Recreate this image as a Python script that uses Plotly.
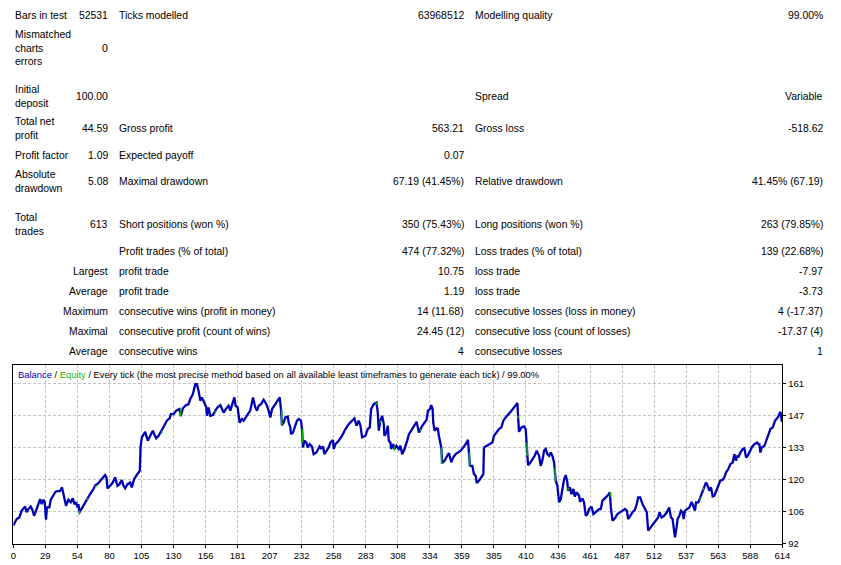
import plotly.graph_objects as go

W, H = 841, 565

# ---------------- data ----------------
trade_no = [
    0, 2.7, 4.8, 6.7, 9.4, 10.7, 12.0, 13.9, 15.5, 16.6, 18.2, 20.0, 21.4, 22.7, 24.0, 25.1, 26.1, 26.9, 28.8, 29.9,
    32.0, 33.6, 35.2, 37.3, 38.9, 40.0, 40.8, 42.1, 44.0, 45.9, 47.5, 48.8, 50.1, 51.2, 52.0, 52.8, 54.7, 57.3, 59.2,
    61.3, 64.0, 65.6, 67.2, 69.3, 71.4, 73.3, 74.4, 75.2, 77.3, 79.4, 81.3, 82.1, 83.2, 84.8, 86.6, 88.0, 89.3, 91.2,
    93.3, 94.6, 95.4, 96.5, 98.1, 100.0, 101.0, 101.6, 102.6, 105.3,
    107.4, 109.3, 111.4, 112.5, 114.1, 116.0, 118.6, 120.5, 122.6, 124.8, 125.8, 128.0, 130.1, 132.7, 133.8, 135.4,
    137.3, 139.9, 141.3, 143.4, 145.3, 146.6, 147.9, 149.3, 150.6, 152.5, 154.1, 154.6, 155.9, 157.3, 159.4, 161.3,
    163.1, 165.3, 166.6, 167.9, 170.1, 171.9, 173.3, 174.6, 176.5, 177.5, 179.1, 180.7, 182.6, 183.9, 186.6, 189.2,
    191.4, 193.2, 194.6, 195.9, 197.8, 199.9, 202.0, 203.9, 205.2, 206.6, 209.2,
    210.0, 212.7, 213.7, 214.5, 215.9, 217.2, 219.1, 219.9, 221.2, 221.7, 223.3, 225.2, 226.5, 227.9, 229.7, 230.5,
    231.3, 232.4, 234.0, 235.0, 236.6, 238.5, 239.8, 242.0, 243.0, 244.6, 245.7, 247.3, 248.4, 250.0, 251.8, 253.2,
    255.3, 255.8, 257.2, 259.8, 262.5, 265.2, 267.8, 270.5, 272.4, 274.0, 275.8, 277.2, 278.5, 281.2, 283.0, 284.6,
    285.7, 287.8, 290.0, 291.0, 291.8, 293.1, 294.5, 295.8, 296.3, 297.9, 299.0, 299.8, 301.1, 301.7, 303.3, 304.3,
    305.9, 307.8, 309.1, 310.5,
    312.4, 314.5, 315.9, 317.7, 319.9, 322.0, 323.9, 325.2, 326.5, 328.4, 330.0, 331.1, 332.7, 333.7, 334.8, 335.3,
    336.4, 338.0, 339.0, 339.8, 340.6, 341.7, 342.5, 344.4, 346.5, 347.8, 349.7, 351.3, 353.2, 355.0, 357.2, 359.3,
    361.2, 363.0, 363.8, 364.6, 366.5, 367.8, 369.2, 370.0, 371.8, 373.7, 375.3, 375.8, 378.0, 379.8, 382.5, 383.8,
    386.0, 387.8, 389.7, 391.3, 393.1, 395.0, 397.1, 399.8, 402.5, 403.0, 403.8, 405.7, 407.8, 409.1, 409.9, 411.0,
    412.6, 414.5, 416.3, 417.9,
    419.8, 421.1, 422.4, 423.8, 425.1, 426.4, 427.8, 429.1, 430.4, 431.8, 432.3, 433.1, 434.4, 435.8, 437.1, 438.4,
    439.8, 441.1, 442.4, 442.9, 444.5, 445.6, 447.2, 448.3, 449.9, 451.7, 452.5, 454.4, 455.7, 457.1, 458.4, 459.7,
    461.6, 463.2, 465.1, 467.7, 469.1, 470.4, 472.3, 474.4, 476.3, 477.1, 478.4, 480.3, 482.4, 484.5, 486.4, 488.3,
    489.9, 490.9, 492.5, 494.4, 496.3, 497.8, 498.9, 500.5, 502.4, 504.2, 505.8, 506.9, 509.0, 511.2, 513.0, 514.9,
    516.0, 517.6, 519.7, 521.8, 523.7,
    525.1, 526.4, 527.2, 528.3, 529.6, 530.4, 531.8, 533.1, 534.4, 535.2, 536.3, 537.9, 539.8, 541.6, 543.2, 544.3,
    545.1, 547.0, 548.5, 550.4, 551.7, 553.1, 554.4, 555.7, 557.1, 558.4, 559.7, 561.1, 562.9, 564.5, 566.4, 567.7,
    569.1, 570.9, 572.5, 574.4, 575.7, 577.1, 577.9, 578.9, 580.5, 582.4, 583.7, 585.1, 586.4, 587.7, 589.6, 591.7,
    593.9, 594.9, 595.7, 596.5, 597.6, 599.7, 601.0, 602.4, 604.5, 606.4, 608.2, 610.4, 611.7, 612.5, 613.6,
]
balance = [
    100.0, 102.8, 103.5, 106.4, 108.2, 105.7, 107.1, 108.2, 106.4, 104.2, 106.4, 109.2, 111.4, 109.2, 111.1, 110.0, 102.5, 107.8, 107.8, 111.1,
    112.8, 114.5, 114.8, 114.8, 116.4, 114.0, 111.1, 108.5, 111.1, 110.0, 111.7, 109.2, 110.0, 107.8, 109.2, 105.7, 107.4, 110.0, 111.7,
    113.5, 115.7, 117.4, 117.8, 119.3, 120.7, 121.7, 120.7, 116.0, 117.1, 118.5, 120.7, 118.5, 117.1, 117.8, 119.6, 117.1, 116.0, 117.8,
    118.5, 116.4, 118.5, 120.0, 121.4, 122.6, 123.6, 133.6, 137.9, 140.3,
    136.5, 138.6, 140.8, 139.3, 137.5, 138.6, 140.8, 142.9, 145.1, 146.1, 147.9, 147.9, 149.4, 150.1, 147.2, 150.4,
    151.5, 152.2, 154.4, 156.5, 160.8, 160.8, 158.0, 153.7, 155.1, 152.9, 150.8, 147.2, 150.8, 147.2, 147.5, 149.4,
    150.8, 151.8, 150.1, 148.6, 150.4, 151.5, 149.4, 151.5, 155.1, 151.5, 150.8, 144.3, 145.8, 145.1, 147.2, 149.4,
    155.1, 150.8, 149.4, 151.5, 152.2, 154.1, 152.2, 149.4, 146.5, 150.1, 152.2,
    152.9, 155.1, 150.1, 143.2, 144.3, 146.5, 146.9, 144.3, 142.2, 139.3, 140.0, 143.6, 145.1, 145.8, 145.1, 141.5,
    133.6, 136.5, 135.7, 133.6, 135.0, 134.0, 130.7, 131.4, 132.2, 134.0, 133.2, 134.0, 130.7, 132.2, 133.6, 135.7,
    136.7, 132.9, 135.0, 136.5, 138.6, 141.5, 143.6, 145.1, 146.1, 142.9, 145.1, 142.9, 137.9, 138.6, 141.5, 142.2,
    150.1, 152.2, 152.9, 148.6, 140.8, 145.1, 147.2, 143.6, 138.6, 140.0, 142.9, 136.5, 135.7, 132.9, 135.0, 132.9,
    134.3, 132.9, 134.3, 130.7,
    132.9, 136.5, 139.3, 140.8, 142.9, 144.6, 140.0, 141.5, 142.9, 144.3, 145.5, 149.4, 150.1, 151.8, 150.1, 144.3,
    140.8, 141.8, 141.5, 138.6, 135.7, 133.6, 126.9, 127.9, 130.0, 131.2, 127.2, 129.3, 130.7, 131.4, 132.2, 133.6,
    135.0, 136.9, 131.4, 125.7, 125.7, 122.1, 121.4, 118.3, 119.3, 120.7, 122.1, 133.6, 134.3, 135.0, 135.7, 138.6,
    140.0, 141.5, 142.2, 145.1, 146.5, 147.5, 148.9, 150.8, 152.7, 147.2, 140.3, 142.2, 142.6, 141.5, 135.7, 126.0,
    126.9, 128.6, 130.0, 132.2,
    130.0, 125.7, 127.9, 132.2, 132.9, 130.7, 130.0, 131.4, 130.0, 127.1, 125.0, 119.3, 117.1, 110.0, 111.4, 115.0,
    120.0, 121.7, 118.5, 115.0, 116.4, 113.5, 115.7, 112.5, 114.3, 112.8, 110.2, 111.7, 110.0, 104.2, 104.9, 107.1,
    108.2, 104.9, 105.7, 107.1, 107.1, 110.7, 111.7, 112.8, 114.3, 107.8, 102.1, 103.1, 104.9, 105.9, 106.4, 107.1,
    106.4, 102.8, 104.2, 105.7, 106.8, 109.2, 112.1, 112.1, 109.2, 107.1, 105.7, 97.8, 99.2, 100.6, 102.1, 103.5,
    105.7, 103.5, 104.2, 105.7, 107.8,
    103.5, 102.8, 99.2, 94.9, 99.2, 102.8, 104.2, 106.4, 105.7, 102.8, 106.4, 107.1, 107.8, 110.2, 107.8, 106.4,
    110.0, 110.0, 112.1, 115.0, 116.4, 118.5, 117.1, 115.0, 116.4, 112.5, 112.8, 115.0, 117.1, 119.3, 119.7, 120.7,
    122.9, 124.3, 126.4, 127.1, 130.7, 127.9, 130.0, 129.3, 131.4, 132.9, 133.2, 129.3, 130.0, 131.4, 133.6, 135.0,
    135.7, 135.0, 135.0, 131.4, 133.6, 134.3, 136.5, 138.6, 141.5, 142.2, 145.1, 146.5, 147.9, 148.9, 144.6,
]

# equity drawdowns visible below the balance line (trade, equity start, equity low)
eq_trade = [52.8, 59.2, 66.0, 118.6, 133.6, 161.3, 214.3, 230.9, 290.0, 293.1, 304.3, 325.2,
            341.9, 364.2, 403.0, 410.3, 432.7, 443.0, 476.8, 548.5, 551.0]
eq_start = [106.5, 111.7, 117.4, 140.8, 150.1, 149.4, 150.1, 141.5, 152.9, 145.1, 134.0, 141.5,
            133.6, 131.4, 147.2, 135.7, 125.0, 116.4, 114.3, 112.1, 116.4]
eq_low = [104.6, 110.8, 116.5, 139.8, 146.8, 148.3, 142.8, 135.5, 151.8, 144.0, 132.2, 140.5,
          126.5, 125.2, 146.0, 130.0, 118.8, 115.3, 112.3, 111.0, 115.2]

x_tick_labels = ["0", "29", "54", "80", "105", "130", "156", "181", "207", "232", "258", "283", "308",
                 "334", "359", "385", "410", "436", "461", "487", "512", "537", "563", "588", "614"]
y_tick_values = [92.2, 105.95, 119.7, 133.45, 147.2, 160.95]
y_tick_labels = ["92", "106", "120", "133", "147", "161"]

# report table: [label, value, label, value, label, value]
report_rows = [
    ["Bars in test", "52531", "Ticks modelled", "63968512", "Modelling quality", "99.00%"],
    ["Mismatched<br>charts<br>errors", "0", "", "", "", ""],
    ["Initial<br>deposit", "100.00", "", "", "Spread", "Variable"],
    ["Total net<br>profit", "44.59", "Gross profit", "563.21", "Gross loss", "-518.62"],
    ["Profit factor", "1.09", "Expected payoff", "0.07", "", ""],
    ["Absolute<br>drawdown", "5.08", "Maximal drawdown", "67.19 (41.45%)", "Relative drawdown", "41.45% (67.19)"],
    ["Total<br>trades", "613", "Short positions (won %)", "350 (75.43%)", "Long positions (won %)", "263 (79.85%)"],
    ["", "", "Profit trades (% of total)", "474 (77.32%)", "Loss trades (% of total)", "139 (22.68%)"],
    ["", "Largest", "profit trade", "10.75", "loss trade", "-7.97"],
    ["", "Average", "profit trade", "1.19", "loss trade", "-3.73"],
    ["", "Maximum", "consecutive wins (profit in money)", "14 (11.68)", "consecutive losses (loss in money)", "4 (-17.37)"],
    ["", "Maximal", "consecutive profit (count of wins)", "24.45 (12)", "consecutive loss (count of losses)", "-17.37 (4)"],
    ["", "Average", "consecutive wins", "4", "consecutive losses", "1"],
]
quality_text = "99.00%"

# ---------------- layout (pixels) ----------------
row_y = [15, 48, 96, 129, 156, 182, 224, 251, 271, 291, 311, 331, 351]
col_x = [13, 110, 117, 466, 473, 825]
col_anchor = ["left", "right", "left", "right", "left", "right"]

FONT = "Liberation Sans"
TXT = "#000000"
BLUE = "#0000B4"
GREEN = "#00B400"

PL, PR, PT, PB = 13.3, 782.3, 365.3, 543.7


def px(x):
    return x / W


def py(y):
    return 1 - y / H


fig = go.Figure()

fig.add_trace(go.Scatter(x=trade_no, y=balance, mode="lines",
                         line=dict(color=BLUE, width=2.3), hoverinfo="skip", showlegend=False))

ex, ey = [], []
for t, a, b in zip(eq_trade, eq_start, eq_low):
    ex += [t, t, None]
    ey += [a, b, None]
fig.add_trace(go.Scatter(x=ex, y=ey, mode="lines", connectgaps=False,
                         line=dict(color=GREEN, width=1.6), hoverinfo="skip", showlegend=False))

n = len(x_tick_labels) - 1
x_max = float(x_tick_labels[-1])
x_tick_pos = [x_max * k / n for k in range(n + 1)]

annotations = []
for r, row in enumerate(report_rows):
    for c, txt in enumerate(row):
        if not txt:
            continue
        annotations.append(dict(
            x=px(col_x[c]), y=py(row_y[r]), xref="paper", yref="paper",
            xanchor=col_anchor[c], yanchor="middle", align=col_anchor[c],
            text=txt, showarrow=False,
            font=dict(family=FONT, size=10.4, color=TXT)))

title = (f"<span style='color:{BLUE}'>Balance</span> / "
         f"<span style='color:#22B800'>Equity</span> / Every tick (the most precise method based on "
         f"all available least timeframes to generate each tick) / {quality_text}")
annotations.append(dict(x=px(16), y=py(374), xref="paper", yref="paper", xanchor="left",
                        yanchor="middle", text=title, showarrow=False,
                        font=dict(family=FONT, size=9.4, color=TXT)))

fig.update_layout(
    width=W, height=H, margin=dict(l=0, r=0, t=0, b=0),
    paper_bgcolor="white", plot_bgcolor="white",
    annotations=annotations,
    xaxis=dict(domain=[px(PL), px(PR)], range=[0, x_max], tickmode="array",
               tickvals=x_tick_pos, ticktext=x_tick_labels, showgrid=True,
               gridcolor="#C4C4C4", griddash="3px,2px", gridwidth=1,
               showline=True, linecolor="black", linewidth=1, mirror=True,
               ticks="outside", ticklen=3, tickcolor="black", zeroline=False,
               automargin=False,
               tickfont=dict(family=FONT, size=9.5, color=TXT), fixedrange=True),
    yaxis=dict(domain=[1 - PB / H, 1 - PT / H], range=[92.2, 168.9], side="right",
               tickmode="array", tickvals=y_tick_values, ticktext=y_tick_labels,
               showgrid=True, gridcolor="#C4C4C4", griddash="3px,2px", gridwidth=1,
               showline=True, linecolor="black", linewidth=1, mirror=True,
               ticks="outside", ticklen=3, tickcolor="black", zeroline=False,
               automargin=False,
               tickfont=dict(family=FONT, size=9.5, color=TXT), fixedrange=True),
)

fig.write_html("out.html")
